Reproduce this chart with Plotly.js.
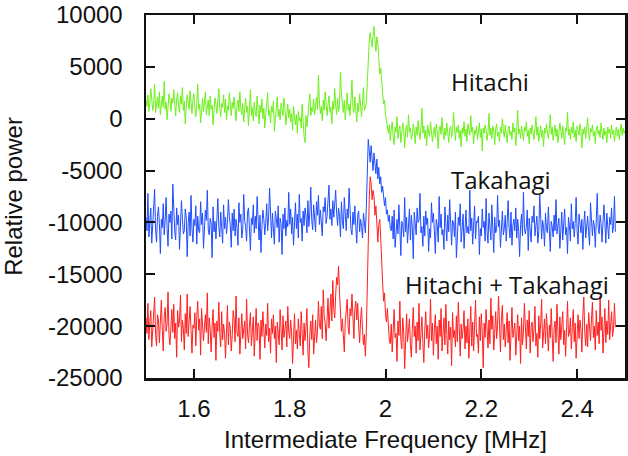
<!DOCTYPE html>
<html>
<head>
<meta charset="utf-8">
<script src="https://cdn.plot.ly/plotly-3.0.1.min.js"></script>
<style>html,body{margin:0;padding:0;background:#fff;}#chart{width:628px;height:456px;}</style>
</head>
<body>
<div id="chart"></div>
<script>
// Frequency grid (MHz): start and bin width
const freqStart = 1.5;
const freqStep = 0.002;

const hitachi = [
1800, 1200, 2300, 700, 1500, 2900, 1900, 800, 1300, 3300,
600, 1400, 2100, 1000, 2600, 400, 1700, 2200, 1100, 3600,
900, 1600, -100, 1300, 2400, 1800, 700, 2000, 1500, 2800,
1000, 300, 1900, 2500, 1200, 600, 2200, 1400, 3000, 800,
1700, -500, 1100, 2300, 1600, 900, 2700, 1300, 500, 1800,
2400, 1000, 200, 1600, 3300, 900, 1400, -400, 1100, 2000,
700, 1500, 2600, 400, 1200, 1800, 300, 2200, 900, 1300,
-600, 800, 2000, 1400, 500, 1700, 2900, 1000, 200, 1500,
1100, 2300, 600, 1900, -100, 1200, 800, 2500, 1400, 300,
1600, 1000, 2100, 500, -200, 1300, 1800, 700, 2600, 900,
400, 1500, -300, 900, 2000, 600, 1200, -700, 800, 2800,
300, 1100, -200, 1600, 700, 200, 2200, 900, -500, 1300,
600, 1900, 0, 1000, -900, 500, 1400, 2500, 300, 800,
-400, 1200, 600, 1700, -1200, 400, 1000, 2100, 200, 900,
-100, 1500, 700, 300, 2000, 1100, -600, 800, 1400, 100,
900, -300, 500, -1100, 1200, 200, -600, 400, -1400, 700,
-200, 100, -900, 1400, -500, -1700, -2300, 300, -800, 600,
1500, 2400, 300, 1100, 700, 1900, 400, 1300, 2100, 900,
4200, 1600, 500, 1200, -200, 1800, 800, 2600, 1000, 300,
1400, 2200, 600, 1100, -500, 1700, 900, 2900, 1300, 400,
2000, 700, 1500, 4500, 2300, 1000, 600, 1800, -100, 1200,
2500, 800, 1400, 300, 1900, 3700, 1100, 600, 2100, 900,
-300, 1500, 700, 2400, 1000, 200, 1600, 3000, 800, 1300,
1500, 3500, 6000, 7400, 8300, 7200, 6900, 8000, 8900, 7600,
6500, 7900, 7300, 5800, 4300, 4900, 3200, 2500, 1400, 1800,
400, -300, -900,
-1400, -600, -2100, -1000, -300, -1700, -2500, -800, -1300, 200,
-1900, -1100, -700, -2300, -1500, -400, -1000, -2800, -1200, -600,
-1800, 400, -1300, -900, -2000, -1500, -500, -1100, -2400, -800,
-1600, -200, -1200, -2000, -900, 1000, -1400, -700, -1900, -1100,
-2600, -600, -1300, -1700, -300, -1000, -2200, -1400, -800, -1800,
-500, -1200, -2900, -1100, -700, -1500, 100, -1300, -2000, -900,
-1600, -400, -1100, -2300, -1000, -700, -1800, -1200, 600, -1500,
-2100, -800, -1300, -600, -1900, -1100, -2700, -900, -1400, -300,
-1700, -1000, -2200, -500, -1200, -1600, 300, -1300, -800, -2400,
-1100, -1500, -700, -2000, -1200, -400, -1800, -1000, -3100, -900,
-1400, -600, -1100, -2100, -1300, 500, -1600, -900, -1900, -700,
-1200, -2500, -1000, -500, -1700, -1300, -2200, -800, -1400, 0,
-1100, -1800, -600, -1500, -2300, -1000, -700, -1600, -1200, -2000,
-400, -1300, -900, -2600, -1100, 800, -1500, -1000, -1900, -700,
-1400, -2100, -800, -1200, -300, -1700, -1100, -2400, -900, -1500,
-600, -1300, -2000, -1000, 200, -1600, -800, -2200, -1200, -700,
-1800, -1100, -2700, -900, -1400, -500, -1300, -1900, -1000, 400,
-1500, -800, -2100, -1200, -600, -1700, -1000, -2300, -1300, -400,
-1100, -1900, -700, -1500, -2500, -900, -1200, 600, -1600, -1000,
-2000, -800, -1400, -300, -1800, -1100, -2200, -700, -1300, -1600,
-500, -1200, -2800, -1000, -1500, -800, -1900, -1100, 100, -1400,
-2100, -900, -1300, -600, -1700, -1200, -2400, -1000, -700, -1500,
-1100, -1800, -400, -1300, -2000, -900, -1600, -1200, -2300, -800,
-1400, -1000, -1900, -600, -1500, -1100, -2200, -1300,
-800, -1700, -1000, -2000, -1200, -500, -1600, -900, -1400, -1100
];

const takahagi = [
-9500, -10800, -7200, -11400, -9900, -8600, -12000, -10300, -9100, -6800,
-10700, -11900, -9400, -8500, -10100, -13000, -9700, -10500, -8200, -11200,
-9800, -7600, -10600, -12300, -9200, -10000, -8900, -11600, -6300, -9900,
-10900, -11700, -8600, -10200, -9300, -12600, -10400, -7900, -9600, -11100,
-10800, -8700, -9500, -13300, -10100, -9000, -11300, -7400, -10600, -11900,
-9700, -10300, -8400, -12100, -9400, -10800, -11000, -8000, -10200, -9100,
-12500, -10500, -8800, -9800, -6900, -10700, -11200, -9600, -10000, -13400,
-8500, -10900, -9900, -11600, -9300, -7700, -10400, -11400, -9000, -10200,
-12000, -8300, -10600, -9500, -11100, -10000, -7800, -9400, -10300, -12400,
-9100, -10800, -8700, -11300, -9700, -10500, -12200, -8100, -10000, -9200,
-11500, -10700, -7300, -9800, -10400, -11800, -9000, -8600, -10900, -12700,
-9600, -10200, -8300, -11000, -9400, -10600, -7500, -10100, -11700, -9300,
-12900, -10400, -8800, -9700, -11200, -10000, -8200, -10800, -9500, -6700,
-10300, -11500, -9100, -10700, -12100, -8900, -9900, -10500, -8400, -11900,
-9600, -10100, -13100, -9200, -10600, -8600, -11300, -9800, -10400, -7100,
-10200, -8700, -11100, -9500, -12200, -9900, -8100, -10600, -9200, -11500,
-7300, -10000, -9600, -11800, -8900, -10300, -8600, -9400, -11000, -7900,
-10400, -9100, -6600, -9800, -10700, -8300, -9600, -10900, -8000, -9300,
-7400, -10200, -8800, -9900, -11300, -8500, -9000, -7600, -10100, -9400,
-8200, -6400, -9700, -8700, -10300, -7900, -9500, -8400, -6900, -9100,
-10300, -8600, -9400, -11400, -8000, -9800, -10600, -7600, -9200, -10800,
-8700, -9600, -6700, -9900, -10700, -11200, -9000, -10200, -8400, -10500,
-12000, -9300, -8900, -10900, -9700, -10400, -11500, -9100, -10100, -11000,
-8500, -4500, -2000, -3000, -4200, -2600, -3800, -5000, -3300, -4600,
-5300, -3900, -5800, -4700, -6300, -5600, -7100, -6500, -7800, -8400,
-7600, -9200, -8800, -9900, -9300, -10600,
-10800, -9400, -11600, -8800, -12400, -10200, -9700, -11100, -8300, -10600,
-13200, -9900, -10300, -11400, -7600, -10900, -9500, -12000, -10100, -8700,
-11700, -9300, -10500, -13500, -9000, -10700, -11200, -8600, -10000, -9800,
-7200, -11000, -10400, -12300, -9400, -11300, -8900, -10200, -9600, -12800,
-10600, -11500, -8100, -10000, -9100, -10800, -13000, -9700, -10300, -11900,
-7500, -10500, -9200, -11200, -10700, -12600, -8500, -10100, -11800, -9300,
-10900, -7800, -10400, -12200, -9800, -10000, -11400, -9000, -13400, -10600,
-9500, -10300, -8200, -11900, -10700, -9200, -12500, -10100, -8800, -11000,
-10400, -11100, -6900, -10800, -9600, -12100, -10200, -8400, -11600, -9900,
-10000, -9400, -13100, -10600, -11300, -8700, -10500, -9900, -11800, -7700,
-10900, -12000, -9100, -10300, -11700, -8300, -10200, -12900, -9500, -11000,
-10700, -7400, -10400, -9800, -12400, -10100, -8900, -11200, -10600, -9300,
-11800, -10000, -7900, -10500, -11500, -9000, -12200, -10300, -9700, -10800,
-8600, -11500, -9700, -10900, -13300, -10200, -9200, -11300, -7100, -10600,
-11100, -10400, -8800, -12700, -9600, -10700, -11900, -9400, -10000, -8400,
-11300, -10300, -9400, -12000, -10900, -7300, -10200, -11600, -9800, -10500,
-12300, -9100, -10600, -11000, -8500, -10100, -12800, -9900, -10400, -11400,
-9300, -10800, -7800, -11100, -10200, -9600, -12500, -10700, -9000, -11700,
-10000, -8700, -11200, -10500, -13000, -9500, -10300, -11800, -8200, -10600,
-9900, -11400, -10100, -7600, -10800, -12100, -9200, -10400, -11000, -9700,
-12600, -10200, -8900, -11500, -10000, -9400, -10900, -12200, -8100, -10700,
-11300, -9800, -10300, -12400, -9600, -7200, -10500, -11100, -9300, -10100,
-11900, -10600, -8300, -10000, -12000, -9100, -10800, -11600, -9500, -10200,
-8600, -11000, -10400, -7500, -10900
];

const combined = [
-19200, -20700, -17800, -21300, -19600, -18500, -22000, -20100, -19000, -17200,
-20800, -21900, -18900, -19400, -21600, -20000, -17500, -20300, -22400, -19100,
-18200, -20500, -19800, -16700, -20900, -21800, -19300, -18400, -20600, -17900,
-21200, -19700, -23000, -18500, -20100, -19500, -17000, -21500, -19400, -20200,
-22300, -18800, -20700, -16900, -21000, -19600, -18100, -20400, -22600, -19900,
-20200, -18700, -21900, -19100, -17600, -20400, -19300, -22800, -18300, -19900,
-21400, -20100, -18900, -20600, -16800, -21700, -19200, -20300, -22500, -20000,
-18400, -21100, -19700, -23300, -19500, -20500, -17700, -20800, -22000, -18600,
-21300, -19800, -20700, -23100, -20300, -18000, -21800, -19600, -20200, -22400,
-20900, -18500, -19400, -21500, -17100, -20600, -21000, -19200, -22700, -20400,
-18800, -21200, -20000, -19500, -22200, -17400, -20800, -21600, -19900, -18700,
-21900, -20300, -19100, -22900, -20600, -18300, -21400, -19700, -20100, -23200,
-19400, -21000, -18600, -20500, -22100, -19800, -20900, -17800, -21500, -20200,
-22600, -19300, -20700, -18900, -21200, -20000, -23500, -19600, -20400, -21800,
-18400, -20800, -22300, -19000, -21100, -20300, -19500, -22000, -18100, -20600,
-21200, -19400, -20600, -23600, -20000, -18800, -21700, -20400, -22200, -19300,
-20700, -21900, -18600, -20300, -22800, -19700, -21400, -20100, -18300, -22500,
-24000, -20800, -19500, -21300, -18900, -22700, -20200, -19400, -21600, -20500,
-17600, -19900, -20300, -18100, -21200, -16500, -19000, -19700, -21400, -18200,
-17300, -20200, -18800, -16900, -19500, -15600, -18400, -19200, -17000, -15300,
-16000, -14200, -16800, -18600, -20500, -19300, -21400, -22500, -19600, -18700,
-17400, -20100, -20800, -18300, -19000, -16900, -19900, -21200, -18300, -17600,
-19400, -17800, -20100, -21600, -19400, -18200, -20400, -21800, -20800, -22900,
-20500, -16000, -11000, -7800, -5600, -6200, -7800, -6900, -7500, -9300,
-8400, -10600, -11900, -10200, -9700, -11500, -14500, -15800, -17600, -16800,
-18900, -19600, -18300, -20200, -21400,
-21700, -19800, -22500, -20300, -18400, -21100, -20700, -23400, -19500, -20900,
-17600, -21300, -22200, -19200, -20600, -24100, -20100, -18800, -21500, -20500,
-19300, -21800, -23000, -20200, -18200, -21000, -20000, -22600, -19600, -21400,
-17800, -22300, -20600, -19100, -21600, -23500, -20400, -18600, -21200, -19900,
-22100, -20800, -17400, -21400, -19700, -22800, -20300, -18900, -21700, -20000,
-23200, -19400, -21000, -18300, -22400, -20600, -19200, -21800, -17900, -20900,
-22700, -19500, -21300, -20100, -23800, -18700, -21100, -20400, -22000, -19000,
-21500, -17700, -20700, -22900, -19800, -21200, -20300, -18500, -22200, -20000,
-21600, -19300, -23100, -20500, -18100, -21900, -19600, -22400, -20200, -17500,
-21000, -20800, -22600, -19100, -21400, -18800, -20600, -24000, -19700, -21100,
-18400, -20900, -22100, -19400, -21700, -17300, -20300, -19000, -22300, -20700,
-18600, -21200, -19900, -17100, -20500, -22500, -19300, -18000, -21300, -19800,
-22000, -20400, -18700, -21600, -19500, -23300, -20900, -18200, -21100, -20200,
-19700, -22800, -20600, -18900, -21400, -20000, -23600, -19200, -21800, -20500,
-17800, -20800, -22200, -19400, -21000, -18500, -22600, -20100, -19600, -21500,
-20300, -18100, -21900, -20700, -23000, -19000, -21200, -19800, -17400, -22100,
-20600, -19300, -21700, -18800, -20400, -22400, -19900, -21100, -18300, -20900,
-23400, -20200, -19500, -21600, -17900, -20500, -22700, -19100, -21300, -20000,
-18600, -21800, -20400, -22900, -19600, -17600, -21000, -20700, -19200, -22200,
-20100, -18400, -21500, -19700, -23100, -20800, -18900, -21200, -19400, -20300,
-22500, -19000, -17200, -20600, -21900, -19800, -22000, -18700, -20500, -21400,
-19300, -17700, -21100, -20000, -22300, -18500, -20900, -19600, -21700, -17100,
-20400, -19100, -22600, -20200, -18300, -21600, -19500, -20800, -17500, -21300,
-19900, -18600, -21000, -20300, -17800, -20100
];

const seriesNames = ["Hitachi", "Takahagi", "Hitachi + Takahagi"];
const xTickVals = [1.6, 1.8, 2.0, 2.2, 2.4];
const xTickText = ["1.6", "1.8", "2", "2.2", "2.4"];
const yTickVals = [10000, 5000, 0, -5000, -10000, -15000, -20000, -25000];
const yTickText = ["10000", "5000", "0", "-5000", "-10000", "-15000", "-20000", "-25000"];

function freqs(n) {
  const out = [];
  for (let i = 0; i < n; i++) out.push(+(freqStart + i * freqStep).toFixed(4));
  return out;
}

const colors = ["#6cf01a", "#1f4dff", "#ff1f1f"];
const allSeries = [hitachi, takahagi, combined];

const traces = allSeries.map((ys, k) => ({
  x: freqs(ys.length),
  y: ys,
  type: "scatter",
  mode: "lines",
  name: seriesNames[k],
  line: {color: colors[k], width: 1},
  hoverinfo: "skip"
}));

const tickFont = {family: "Liberation Sans, Arial, sans-serif", size: 24, color: "#111"};
const annFont = {family: "Open Sans, sans-serif", size: 24, color: "#111"};

const layout = {
  width: 628,
  height: 456,
  margin: {l: 146, r: 3, t: 15, b: 78},
  paper_bgcolor: "#fff",
  plot_bgcolor: "#fff",
  showlegend: false,
  xaxis: {
    range: [1.5, 2.5],
    tickvals: xTickVals,
    ticktext: xTickText,
    ticks: "inside",
    ticklen: 9,
    tickwidth: 2,
    tickcolor: "#111",
    showline: true,
    linewidth: 2.5,
    linecolor: "#111",
    mirror: "allticks",
    showgrid: false,
    zeroline: false,
    tickfont: tickFont,
    ticklabelstandoff: 8,
    ticklabeloverflow: "allow",
    title: {text: "Intermediate Frequency [MHz]", font: {family: "Liberation Sans, Arial, sans-serif", size: 24, color: "#111"}, standoff: 10}
  },
  yaxis: {
    range: [-25000, 10000],
    tickvals: yTickVals,
    ticktext: yTickText,
    ticks: "inside",
    ticklen: 9,
    tickwidth: 2,
    tickcolor: "#111",
    showline: true,
    linewidth: 2.5,
    linecolor: "#111",
    mirror: "allticks",
    showgrid: false,
    zeroline: false,
    tickfont: tickFont,
    ticklabelstandoff: 16,
    ticklabeloverflow: "allow",
    title: {text: "Relative power", font: {family: "Liberation Sans, Arial, sans-serif", size: 24, color: "#111"}, standoff: 22}
  },
  annotations: [
    {x: 2.219, y: 3600, xref: "x", yref: "y", text: seriesNames[0], showarrow: false, font: annFont, xanchor: "center", yanchor: "middle"},
    {x: 2.242, y: -5900, xref: "x", yref: "y", text: seriesNames[1], showarrow: false, font: annFont, xanchor: "center", yanchor: "middle"},
    {x: 2.253, y: -16000, xref: "x", yref: "y", text: seriesNames[2], showarrow: false, font: annFont, xanchor: "center", yanchor: "middle"}
  ]
};

Plotly.newPlot("chart", traces, layout, {staticPlot: true, displayModeBar: false});
</script>
</body>
</html>
